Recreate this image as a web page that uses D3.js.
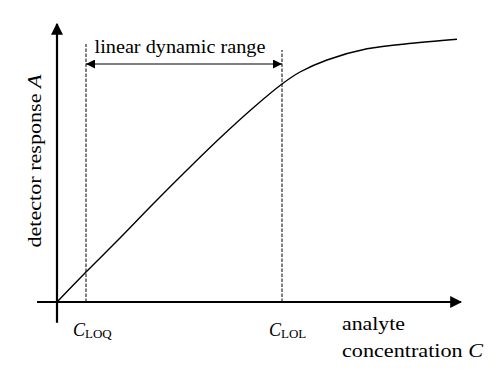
<!DOCTYPE html>
<html>
<head>
<meta charset="utf-8">
<script src="https://cdn.jsdelivr.net/npm/d3@7"></script>
<style>
  body { margin: 0; background: #fff; }
  text { font-family: "Liberation Serif", "Times New Roman", serif; fill: #000; }
</style>
</head>
<body>
<svg id="chart" width="501" height="372"></svg>
<script>
// response curve (arbitrary units)
var conc = [0, 0.725, 1.575, 2.4, 3.25, 4.075, 4.9, 5.625, 6.075, 6.75, 7.75, 9.0, 10.0];
var resp = [0, 0.75, 1.6, 2.45, 3.3, 4.1, 4.85, 5.45, 5.75, 6.05, 6.33, 6.48, 6.57];

var limits = [0.725, 5.625];          // C_LOQ, C_LOL
var limitNames = ["LOQ", "LOL"];
var rangeLevel = 5.95;                // height of the dynamic-range arrow

var svg = d3.select("#chart");

var x = d3.scaleLinear().domain([0, 10]).range([57, 457]),
    y = d3.scaleLinear().domain([0, 7]).range([302, 22]);

var defs = svg.append("defs");
defs.append("marker")
    .attr("id", "head")
    .attr("viewBox", "0 0 10 10")
    .attr("refX", 10).attr("refY", 5)
    .attr("markerWidth", 10).attr("markerHeight", 9)
    .attr("markerUnits", "userSpaceOnUse")
    .attr("orient", "auto-start-reverse")
  .append("path")
    .attr("d", "M0,0L10,5L0,10Z")
    .attr("fill", "#000");

defs.append("marker")
    .attr("id", "axishead")
    .attr("viewBox", "0 0 10 10")
    .attr("refX", 9).attr("refY", 5)
    .attr("markerWidth", 12).attr("markerHeight", 13)
    .attr("markerUnits", "userSpaceOnUse")
    .attr("orient", "auto")
  .append("path")
    .attr("d", "M0,0L10,5L0,10Z")
    .attr("fill", "#000");

// axes
svg.append("line")
    .attr("x1", x(-0.5)).attr("x2", x(10.1))
    .attr("y1", y(0)).attr("y2", y(0))
    .attr("stroke", "#000").attr("stroke-width", 2.2)
    .attr("marker-end", "url(#axishead)");

svg.append("line")
    .attr("x1", x(0)).attr("x2", x(0))
    .attr("y1", y(-0.52)).attr("y2", y(6.95))
    .attr("stroke", "#000").attr("stroke-width", 2.2)
    .attr("marker-end", "url(#axishead)");

// dashed limit lines
svg.selectAll(".limit")
    .data(limits)
  .enter().append("line")
    .attr("class", "limit")
    .attr("x1", function(d) { return x(d); })
    .attr("x2", function(d) { return x(d); })
    .attr("y1", y(0))
    .attr("y2", function(d, i) { return i === 0 ? y(6.45) : y(6.3); })
    .attr("stroke", "#000")
    .attr("stroke-width", 1)
    .attr("stroke-dasharray", "3.5,1.5");

// dynamic range arrow
svg.append("line")
    .attr("x1", x(limits[0])).attr("x2", x(limits[1]))
    .attr("y1", y(rangeLevel)).attr("y2", y(rangeLevel))
    .attr("stroke", "#000").attr("stroke-width", 1.2)
    .attr("marker-start", "url(#head)")
    .attr("marker-end", "url(#head)");

svg.append("text")
    .attr("x", (x(limits[0]) + x(limits[1])) / 2 - 4)
    .attr("y", 53)
    .attr("text-anchor", "middle")
    .attr("font-size", 19)
    .attr("textLength", 171)
    .attr("lengthAdjust", "spacingAndGlyphs")
    .text("linear dynamic range");

// response curve
var line = d3.line()
    .x(function(d) { return x(d[0]); })
    .y(function(d) { return y(d[1]); })
    .curve(d3.curveCatmullRom.alpha(0.5));

svg.append("path")
    .datum(d3.zip(conc, resp))
    .attr("d", line)
    .attr("fill", "none")
    .attr("stroke", "#000")
    .attr("stroke-width", 1.4);

// limit labels
var lab = svg.selectAll(".limlab")
    .data(limits)
  .enter().append("text")
    .attr("class", "limlab")
    .attr("x", function(d) { return x(d) - 13; })
    .attr("y", 336)
    .attr("font-size", 18);
lab.append("tspan")
    .attr("font-style", "italic")
    .text("C");
lab.append("tspan")
    .attr("font-size", 13)
    .attr("dy", 2)
    .text(function(d, i) { return limitNames[i]; });

// axis titles
svg.append("text")
    .attr("transform", "translate(41,161) rotate(-90)")
    .attr("text-anchor", "middle")
    .attr("font-size", 19)
    .attr("textLength", 173)
    .attr("lengthAdjust", "spacingAndGlyphs")
    .html("detector response <tspan font-style='italic'>A</tspan>");

svg.append("text")
    .attr("x", 342).attr("y", 330)
    .attr("font-size", 19)
    .attr("textLength", 63)
    .attr("lengthAdjust", "spacingAndGlyphs")
    .text("analyte");

svg.append("text")
    .attr("x", 342).attr("y", 357)
    .attr("font-size", 19)
    .attr("textLength", 141)
    .attr("lengthAdjust", "spacingAndGlyphs")
    .html("concentration <tspan font-style='italic'>C</tspan>");
</script>
</body>
</html>
